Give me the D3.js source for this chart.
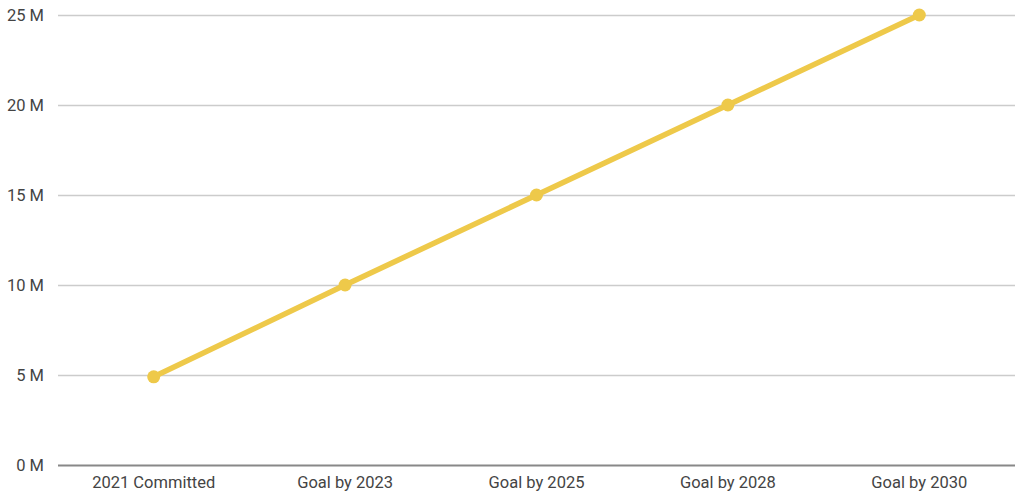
<!DOCTYPE html>
<html>
<head>
<meta charset="utf-8">
<script src="https://cdn.jsdelivr.net/npm/d3@7"></script>
<style>
  body { margin: 0; background: #fff; }
  text { font-family: Roboto, sans-serif; }
</style>
</head>
<body>
<div id="graph"></div>
<script>
let width = 1017;
let height = 494;

let categories = ["2021 Committed", "Goal by 2023", "Goal by 2025", "Goal by 2028", "Goal by 2030"];
let values = [4.9, 10, 15, 20, 25];
let yTicks = [0, 5, 10, 15, 20, 25];

let margin = { top: 15, right: 2, bottom: 29, left: 58 };

let svg = d3.select('#graph')
  .append('svg')
  .attr('width', width)
  .attr('height', height);

let x = d3.scaleBand()
  .domain(categories)
  .range([margin.left, width - margin.right]);

let y = d3.scaleLinear()
  .domain([0, 25])
  .range([height - margin.bottom, margin.top]);

// gridlines + y labels
let yAxis = svg.append('g')
  .attr('transform', 'translate(' + margin.left + ',0)')
  .call(d3.axisLeft(y)
    .tickValues(yTicks)
    .tickSize(-(width - margin.left - margin.right))
    .tickPadding(14)
    .tickFormat(d => d + ' M'));

yAxis.select('.domain').remove();
yAxis.selectAll('line')
  .attr('stroke', (d) => d === 0 ? '#888' : '#ccc')
  .attr('stroke-width', (d) => d === 0 ? 2 : 1.3);
yAxis.selectAll('text')
  .attr('fill', '#444')
  .attr('font-size', 16.5);

// x labels
let xAxis = svg.append('g')
  .attr('transform', 'translate(0,' + (height - margin.bottom) + ')')
  .call(d3.axisBottom(x).tickSize(0).tickPadding(11));

xAxis.select('.domain').remove();
xAxis.selectAll('text')
  .attr('fill', '#444')
  .attr('font-size', 16.5);

let points = categories.map((c, i) => ({ cat: c, val: values[i] }));

let line = d3.line()
  .x(d => x(d.cat) + x.bandwidth() / 2)
  .y(d => y(d.val));

svg.append('path')
  .datum(points)
  .attr('fill', 'none')
  .attr('stroke', '#EEC94A')
  .attr('stroke-width', 5.5)
  .attr('stroke-linejoin', 'round')
  .attr('d', line);

svg.selectAll('circle')
  .data(points)
  .enter()
  .append('circle')
  .attr('cx', d => x(d.cat) + x.bandwidth() / 2)
  .attr('cy', d => y(d.val))
  .attr('r', 6.5)
  .attr('fill', '#EEC94A');
</script>
</body>
</html>
